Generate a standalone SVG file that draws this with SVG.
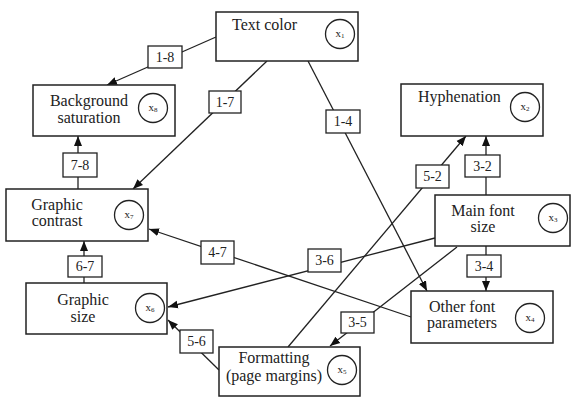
<svg xmlns="http://www.w3.org/2000/svg" width="572" height="399" viewBox="0 0 572 399">
<style>
.box{fill:#fff;stroke:#222;stroke-width:1.5}
.cir{fill:#fff;stroke:#222;stroke-width:1.3}
.t{font-family:'Liberation Serif','Times New Roman','DejaVu Serif',serif;font-size:16px;fill:#222}
.c{text-anchor:middle}
.x{font-family:'Liberation Serif','Times New Roman','DejaVu Serif',serif;font-size:11px;fill:#222;text-anchor:middle}
.s{font-size:7px}
.ln{stroke:#222;stroke-width:1.3;fill:none}
.lb{fill:#fff;stroke:#222;stroke-width:1.3}
.lt{font-family:'Liberation Serif','Times New Roman','DejaVu Serif',serif;font-size:14px;fill:#222;text-anchor:middle}
</style>
<defs>
<marker id="ah" markerUnits="userSpaceOnUse" markerWidth="10" markerHeight="10" viewBox="0 0 10 10" refX="10" refY="5" orient="auto">
<path d="M0,1 L10,5 L0,9 Z" fill="#111"/>
</marker>
</defs>
<g id="connectors">
<line class="ln" x1="216" y1="37" x2="107" y2="85" marker-end="url(#ah)"/>
<line class="ln" x1="267" y1="61" x2="133" y2="189" marker-end="url(#ah)"/>
<line class="ln" x1="308" y1="61" x2="427" y2="291" marker-end="url(#ah)"/>
<line class="ln" x1="411" y1="317" x2="149" y2="229" marker-end="url(#ah)"/>
<line class="ln" x1="435" y1="238" x2="168" y2="307" marker-end="url(#ah)"/>
<line class="ln" x1="219" y1="370" x2="168" y2="320" marker-end="url(#ah)"/>
<line class="ln" x1="457" y1="247" x2="330" y2="346" marker-end="url(#ah)"/>
<line class="ln" x1="288" y1="347" x2="466" y2="136" marker-end="url(#ah)"/>
<line class="ln" x1="486" y1="195" x2="486" y2="136" marker-end="url(#ah)"/>
<line class="ln" x1="486" y1="246" x2="486" y2="291" marker-end="url(#ah)"/>
<line class="ln" x1="78" y1="189" x2="78" y2="136" marker-end="url(#ah)"/>
<line class="ln" x1="84" y1="283" x2="84" y2="241" marker-end="url(#ah)"/>
<rect class="lb" x="148" y="46" width="34" height="22"/><text class="lt" x="165" y="62">1-8</text>
<rect class="lb" x="209" y="91" width="32" height="22"/><text class="lt" x="225" y="107">1-7</text>
<rect class="lb" x="326" y="110" width="34" height="23"/><text class="lt" x="343" y="126">1-4</text>
<rect class="lb" x="63" y="153" width="34" height="24"/><text class="lt" x="80" y="170">7-8</text>
<rect class="lb" x="68" y="256" width="34" height="21"/><text class="lt" x="85" y="271">6-7</text>
<rect class="lb" x="201" y="241" width="33" height="23"/><text class="lt" x="217.5" y="257">4-7</text>
<rect class="lb" x="308" y="249" width="33" height="23"/><text class="lt" x="324.5" y="265">3-6</text>
<rect class="lb" x="180" y="330" width="33" height="23"/><text class="lt" x="196.5" y="346">5-6</text>
<rect class="lb" x="341" y="312" width="33" height="21"/><text class="lt" x="357.5" y="327">3-5</text>
<rect class="lb" x="416" y="165" width="33" height="23"/><text class="lt" x="432.5" y="181">5-2</text>
<rect class="lb" x="465" y="155" width="35" height="22"/><text class="lt" x="482.5" y="171">3-2</text>
<rect class="lb" x="467" y="255" width="34" height="22"/><text class="lt" x="484" y="271">3-4</text>
</g>
<g id="x1">
<rect class="box" x="216" y="12" width="142" height="49"/>
<text class="t" x="232" y="30">Text color</text>
<circle class="cir" cx="340" cy="34" r="14.5"/>
<text class="x" x="340" y="37">x<tspan class="s" dy="1">1</tspan></text>
</g>
<g id="x8">
<rect class="box" x="33" y="85" width="142" height="51"/>
<text class="t c" x="89" y="106">Background</text>
<text class="t c" x="89" y="123">saturation</text>
<circle class="cir" cx="153" cy="108" r="14.5"/>
<text class="x" x="153" y="111">x<tspan class="s" dy="1">8</tspan></text>
</g>
<g id="x2">
<rect class="box" x="401" y="84" width="142" height="52"/>
<text class="t" x="418" y="102">Hyphenation</text>
<circle class="cir" cx="525" cy="107" r="14.5"/>
<text class="x" x="525" y="110">x<tspan class="s" dy="1">2</tspan></text>
</g>
<g id="x7">
<rect class="box" x="6" y="189" width="142" height="52"/>
<text class="t c" x="57" y="210">Graphic</text>
<text class="t c" x="57" y="226">contrast</text>
<circle class="cir" cx="129" cy="215" r="14.5"/>
<text class="x" x="129" y="218">x<tspan class="s" dy="1">7</tspan></text>
</g>
<g id="x3">
<rect class="box" x="435" y="195" width="135" height="51"/>
<text class="t c" x="483" y="216">Main font</text>
<text class="t c" x="483" y="232">size</text>
<circle class="cir" cx="553" cy="218" r="14.5"/>
<text class="x" x="553" y="221">x<tspan class="s" dy="1">3</tspan></text>
</g>
<g id="x6">
<rect class="box" x="26" y="283" width="141" height="51"/>
<text class="t c" x="83" y="305">Graphic</text>
<text class="t c" x="83" y="322">size</text>
<circle class="cir" cx="150" cy="308" r="14.5"/>
<text class="x" x="150" y="311">x<tspan class="s" dy="1">6</tspan></text>
</g>
<g id="x4">
<rect class="box" x="411" y="291" width="142" height="52"/>
<text class="t c" x="462" y="312">Other font</text>
<text class="t c" x="462" y="328">parameters</text>
<circle class="cir" cx="530" cy="318" r="14.5"/>
<text class="x" x="530" y="321">x<tspan class="s" dy="1">4</tspan></text>
</g>
<g id="x5">
<rect class="box" x="219" y="347" width="141" height="49"/>
<text class="t c" x="274" y="363">Formatting</text>
<text class="t c" x="274" y="381">(page margins)</text>
<circle class="cir" cx="342" cy="370" r="14.5"/>
<text class="x" x="342" y="373">x<tspan class="s" dy="1">5</tspan></text>
</g>
</svg>
